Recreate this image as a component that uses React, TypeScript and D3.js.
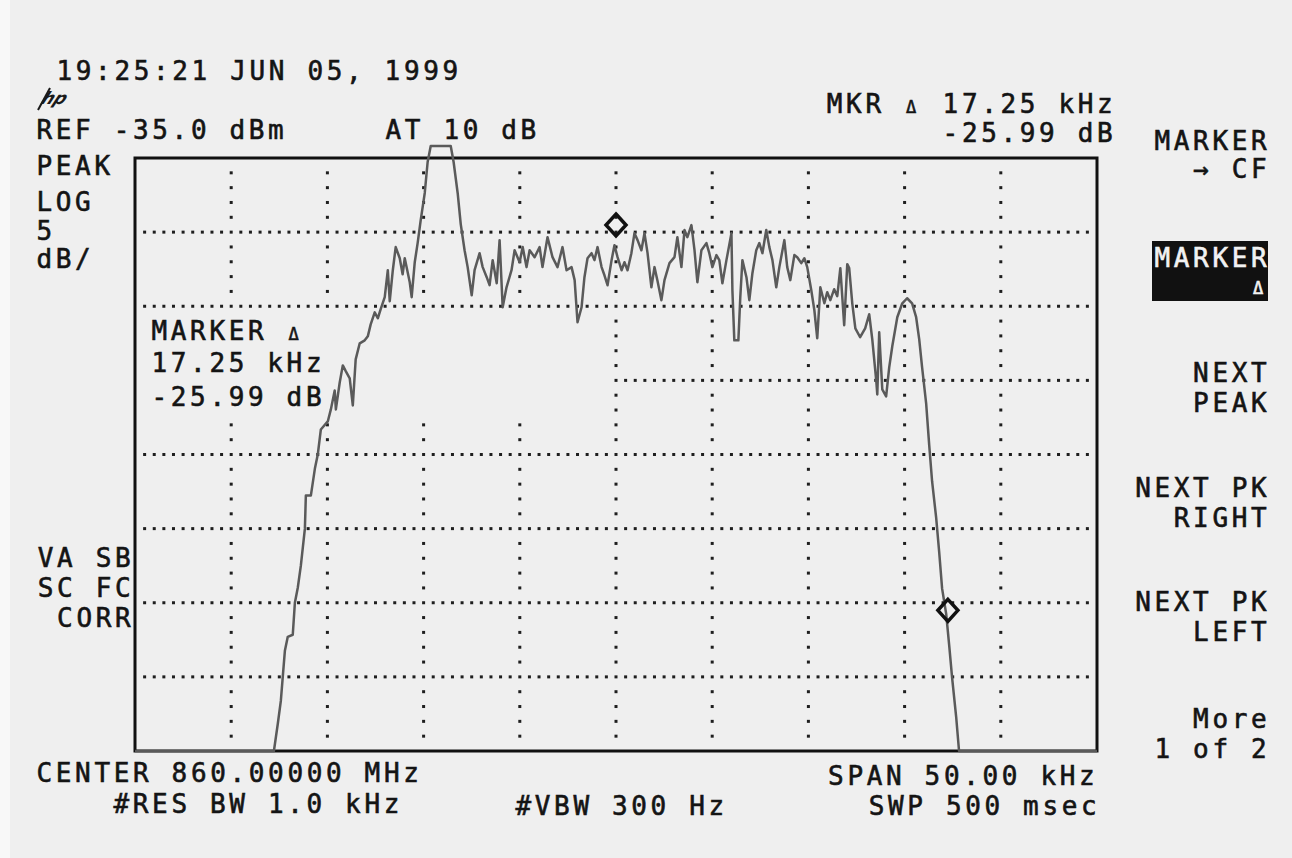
import React from 'react';
import * as d3 from 'd3';

// trace: offset from center (kHz) and level (dBm)
const traceFreqKHz = [
  -25, -17.78, -17.58, -17.42, -17.32, -17.21, -17.06, -16.8, -16.69, -16.54,
  -16.38, -16.17, -16.12, -15.86, -15.65, -15.5, -15.34, -14.98, -14.82, -14.62,
  -14.56, -14.36, -14.2, -14.04, -13.84, -13.68, -13.53, -13.32, -13.06, -12.9,
  -12.75, -12.54, -12.38, -12.23, -12.02, -11.86, -11.76, -11.6, -11.45, -11.24,
  -11.09, -10.98, -10.72, -10.62, -10.46, -10.31, -10.15, -9.94, -9.79, -9.63,
  -8.59, -8.44, -8.23, -8.07, -7.87, -7.71, -7.5, -7.35, -7.09, -6.93,
  -6.72, -6.57, -6.41, -6.2, -6.05, -5.89, -5.69, -5.43, -5.27, -5.01,
  -4.85, -4.65, -4.49, -4.23, -3.97, -3.82, -3.56, -3.3, -3.04, -2.78,
  -2.57, -2.31, -2.15, -2.0, -1.79, -1.64, -1.48, -1.27, -1.12, -0.96,
  -0.75, -0.6, -0.44, -0.23, -0.08, 0.08, 0.29, 0.44, 0.6, 0.8,
  0.96, 1.12, 1.32, 1.48, 1.64, 1.84, 2.0, 2.15, 2.36, 2.52,
  2.78, 3.04, 3.19, 3.4, 3.56, 3.71, 3.92, 4.08, 4.23, 4.44,
  4.7, 4.85, 5.01, 5.22, 5.37, 5.53, 5.74, 6.0, 6.05, 6.15,
  6.36, 6.46, 6.57, 6.78, 6.93, 7.09, 7.29, 7.45, 7.61, 7.81,
  7.97, 8.13, 8.33, 8.49, 8.75, 8.9, 9.06, 9.27, 9.42, 9.63,
  9.79, 9.94, 10.15, 10.31, 10.46, 10.62, 10.83, 10.98, 11.14, 11.34,
  11.5, 11.66, 11.86, 12.02, 12.12, 12.28, 12.44, 12.69, 12.95, 13.16,
  13.32, 13.53, 13.58, 13.68, 13.84, 14.04, 14.2, 14.36, 14.62, 14.88,
  15.13, 15.39, 15.6, 15.76, 15.91, 16.12, 16.28, 16.43, 16.64, 16.8,
  16.95, 17.16, 17.32, 17.47, 17.68, 17.83, 25,
];
const traceLevelDbm = [
  -75, -75, -73.18, -71.62, -70, -68.24, -67.3, -67.16, -65, -63.99,
  -62.5, -60, -57.77, -57.77, -55.95, -55, -53.31, -52.77, -51.96, -50.68,
  -51.96, -50.14, -48.99, -49.39, -49.86, -51.69, -48.58, -47.5, -47.3, -47.03,
  -46.22, -45.41, -45.81, -45.2, -44.39, -42.57, -44.66, -42.57, -41.01, -41.76,
  -42.84, -41.76, -43.38, -44.39, -42.03, -40.74, -39.19, -37.36, -35.27, -34.19,
  -34.19, -35.27, -37.36, -39.46, -41.22, -42.36, -44.26, -42.57, -41.42, -42.36,
  -43.04, -43.58, -41.89, -43.45, -40.54, -45.07, -43.72, -42.57, -41.22, -42.03,
  -41.01, -42.36, -41.22, -41.69, -41.01, -42.36, -40.34, -41.69, -42.36, -41.01,
  -42.57, -42.36, -43.24, -46.08, -45.07, -43.04, -41.76, -41.42, -41.89, -41.01,
  -42.36, -42.91, -43.58, -41.89, -40.88, -41.69, -42.57, -42.03, -42.57, -41.42,
  -40.07, -40.54, -41.22, -40.07, -41.42, -43.72, -42.36, -43.24, -44.59, -43.24,
  -42.09, -41.69, -40.34, -42.36, -39.86, -40.34, -39.53, -41.22, -43.38, -41.22,
  -40.74, -41.42, -42.36, -41.55, -41.89, -43.45, -41.89, -40.07, -43.92, -47.3,
  -47.3, -44.39, -41.89, -43.04, -44.59, -42.77, -41.22, -40.74, -41.42, -39.86,
  -41.01, -41.89, -43.72, -42.36, -40.54, -42.36, -43.24, -41.55, -41.69, -42.09,
  -41.76, -42.36, -43.92, -45.27, -47.16, -43.72, -44.8, -44.05, -44.59, -43.85,
  -44.32, -42.43, -46.28, -42.16, -42.43, -44.8, -46.49, -47.09, -46.49, -45.54,
  -47.23, -50.07, -50.95, -46.76, -50.61, -51.08, -49.12, -47.7, -45.74, -44.8,
  -44.46, -44.8, -45.74, -47.23, -49.12, -51.55, -54.39, -56.82, -59.26, -61.62,
  -64.05, -65.74, -67.91, -70.07, -72.7, -75, -75,
];

// markers: reference marker and delta marker
const markerFreqKHz = [0, 17.25];
const markerLevelDbm = [-39.52, -65.51];

// graticule
const gridFreqsKHz = [-20, -15, -10, -5, 0, 5, 10, 15, 20];
const gridLevelsDbm = [-40, -45, -50, -55, -60, -65, -70];

const PITCH = 19.3;
const FONT = '"DejaVu Sans Mono", monospace';

type Lbl = { t: string; x: number; y: number; r?: boolean; fill?: string };

const labels: Lbl[] = [
  { t: '19:25:21 JUN 05, 1999', x: 58, y: 80 },
  { t: 'REF -35.0 dBm', x: 38, y: 139 },
  { t: 'AT 10 dB', x: 387, y: 139 },
  { t: 'MKR \u0394 17.25 kHz', x: 1111, y: 113, r: true },
  { t: '-25.99 dB', x: 1111, y: 142, r: true },
  { t: 'PEAK', x: 38, y: 175 },
  { t: 'LOG', x: 38, y: 211 },
  { t: '5', x: 38, y: 240 },
  { t: 'dB/', x: 38, y: 268 },
  { t: 'MARKER', x: 1265, y: 150, r: true },
  { t: '\u2192 CF', x: 1265, y: 178, r: true },
  { t: 'MARKER', x: 1265, y: 267, r: true, fill: '#f2f2f2' },
  { t: '\u0394', x: 1265, y: 294, r: true, fill: '#f2f2f2' },
  { t: 'NEXT', x: 1265, y: 382, r: true },
  { t: 'PEAK', x: 1265, y: 412, r: true },
  { t: 'NEXT PK', x: 1265, y: 497, r: true },
  { t: 'RIGHT', x: 1265, y: 527, r: true },
  { t: 'NEXT PK', x: 1265, y: 611, r: true },
  { t: 'LEFT', x: 1265, y: 641, r: true },
  { t: 'More', x: 1265, y: 728, r: true },
  { t: '1 of 2', x: 1265, y: 758, r: true },
  { t: 'VA SB', x: 129, y: 567, r: true },
  { t: 'SC FC', x: 129, y: 597, r: true },
  { t: 'CORR', x: 129, y: 627, r: true },
  { t: 'MARKER \u0394', x: 153, y: 340 },
  { t: '17.25 kHz', x: 153, y: 372 },
  { t: '-25.99 dB', x: 153, y: 406 },
  { t: 'CENTER 860.00000 MHz', x: 38, y: 782 },
  { t: '#RES BW 1.0 kHz', x: 115, y: 813 },
  { t: '#VBW 300 Hz', x: 517, y: 815 },
  { t: 'SPAN 50.00 kHz', x: 1093, y: 785, r: true },
  { t: 'SWP 500 msec', x: 1095, y: 815, r: true },
];

// one label on the fixed character grid of the analyzer screen;
// the delta sign is drawn smaller, as the instrument font does
function Label({ lb }: { lb: Lbl }) {
  const start = lb.r ? lb.x - (lb.t.length - 1) * PITCH - 14 : lb.x - 1.5;
  const fill = lb.fill ?? '#141414';

  // runs of ordinary characters, split at the delta signs
  const runs: { c: string; i: number }[][] = [[]];
  const deltas: number[] = [];
  Array.from(lb.t).forEach((c, i) => {
    if (c === '\u0394') { deltas.push(i); runs.push([]); }
    else if (c !== ' ') runs[runs.length - 1].push({ c, i });
  });

  return (
    <g>
      {runs.filter(r => r.length > 0).map((r, k) => (
        <text key={'r' + k} x={r.map(d => start + d.i * PITCH).join(' ')} y={lb.y} fontFamily={FONT}
          fontSize={26} fill={fill} stroke={fill} strokeWidth={0.6}>
          {r.map(d => d.c).join('')}
        </text>
      ))}
      {deltas.map(i => (
        <text key={'d' + i} x={start + i * PITCH + 2} y={lb.y} fontFamily={FONT}
          fontSize={17} fill={fill} stroke={fill} strokeWidth={0.6}>
          {'\u0394'}
        </text>
      ))}
    </g>
  );
}

export default function App() {
  const left = 135, right = 1097, top = 158, bottom = 751;
  const x = d3.scaleLinear().domain([-25, 25]).range([left, right]);
  const y = d3.scaleLinear().domain([-75, -35]).range([bottom, top]);

  const trace = traceFreqKHz.map((f, i) => ({ f, l: traceLevelDbm[i] }));
  const line = d3.line<{ f: number; l: number }>().x(d => x(d.f)).y(d => y(d.l));

  // the on-screen marker readout blanks part of the graticule
  const blank = (f: number, l: number) => f < 0 && l < -45.5 && l > -52.5;

  const dots: { cx: number; cy: number }[] = [];
  gridLevelsDbm.forEach(l => {
    d3.range(-24.5, 25, 0.5).forEach(f => {
      if (!blank(f, l)) dots.push({ cx: x(f), cy: y(l) });
    });
  });
  gridFreqsKHz.forEach(f => {
    d3.range(-74, -35, 1).forEach(l => {
      if (l % 5 === 0) return;
      if (!blank(f, l)) dots.push({ cx: x(f), cy: y(l) });
    });
  });

  const diamond = (cx: number, cy: number) =>
    `M${cx},${cy - 11}L${cx + 10},${cy}L${cx},${cy + 11}L${cx - 10},${cy}Z`;

  return (
    <svg width={1292} height={858} style={{ position: 'absolute', left: 0, top: 0 }}>
      <rect width={1292} height={858} fill="#efefef" />
      <rect width={10} height={858} fill="#f8f8f8" />

      {/* hp logo */}
      <g transform="translate(40,104) skewX(-25)">
        <text x={0} y={0} fontFamily="DejaVu Sans" fontWeight="bold" fontStyle="italic" fontSize={17} fill="#1a1a1a">hp</text>
      </g>
      <line x1={38} y1={110} x2={50} y2={88} stroke="#1a1a1a" strokeWidth={2} />

      {dots.map((d, i) => (
        <rect key={i} x={d.cx - 1.5} y={d.cy - 1.5} width={3} height={3} fill="#1e1e1e" />
      ))}

      <rect x={left} y={top} width={right - left} height={bottom - top} fill="none" stroke="#111" strokeWidth={3} />

      <path d={line(trace) ?? ''} fill="none" stroke="#5a5a5a" strokeWidth={2.5} strokeLinejoin="round" />

      {markerFreqKHz.map((f, i) => (
        <path key={i} d={diamond(x(f), y(markerLevelDbm[i]))} fill="none" stroke="#111" strokeWidth={3.5} />
      ))}

      <rect x={1152} y={241} width={116} height={60} fill="#111" />

      {labels.map((lb, i) => <Label key={i} lb={lb} />)}
    </svg>
  );
}
